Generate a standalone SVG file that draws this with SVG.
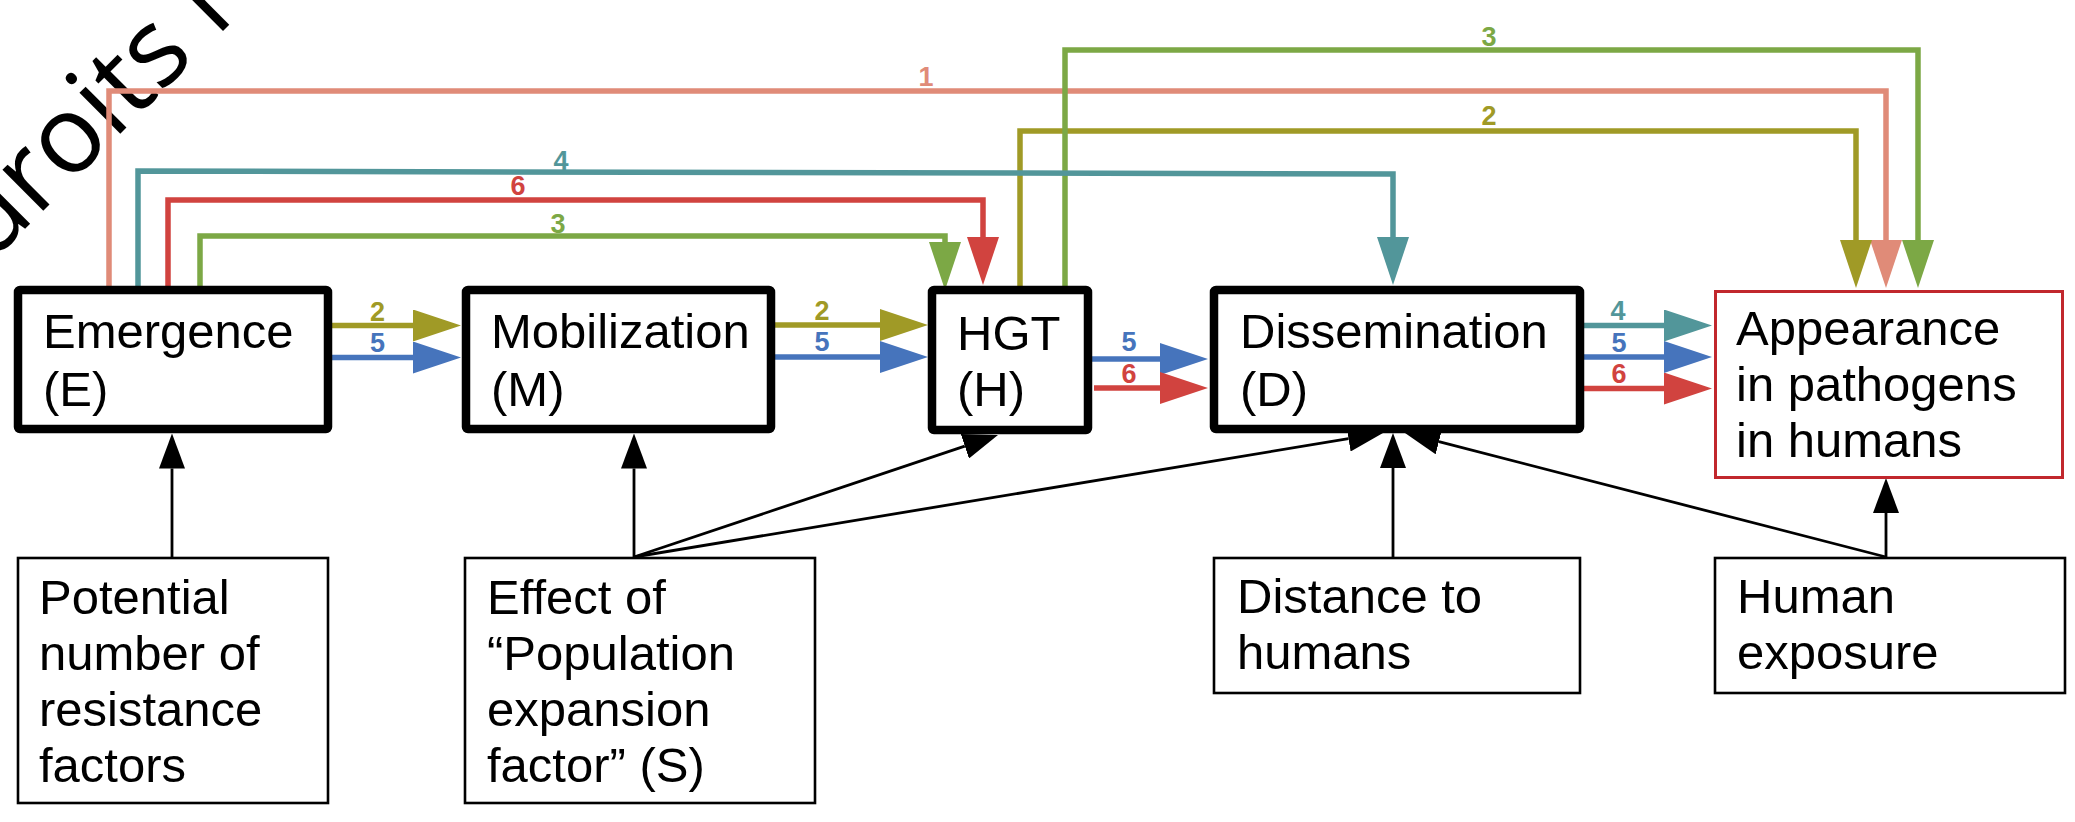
<svg xmlns="http://www.w3.org/2000/svg" width="2075" height="822" viewBox="0 0 2075 822">
<defs>
<style>
.box{fill:#fff;stroke:#000;stroke-width:8.5;stroke-linejoin:round}
.thin{fill:#fff;stroke:#000;stroke-width:2.6}
.red{fill:#fff;stroke:#c1272d;stroke-width:3}
.t{font-family:"Liberation Sans",Arial,sans-serif;font-size:49px;fill:#000}
.n{font-family:"Liberation Sans",Arial,sans-serif;font-size:27px;font-weight:bold;text-anchor:middle}
.c{fill:none;stroke-width:5.5}
.k{fill:none;stroke:#000;stroke-width:2.8}
.wm{font-family:"Open Sans",sans-serif;font-size:108px;fill:#000}
</style>
<marker id="aO" markerUnits="userSpaceOnUse" markerWidth="48" markerHeight="32" refX="0" refY="16" orient="auto"><path d="M0,0 L48,16 L0,32 z" fill="#e08b78"/></marker>
<marker id="aL" markerUnits="userSpaceOnUse" markerWidth="48" markerHeight="32" refX="0" refY="16" orient="auto"><path d="M0,0 L48,16 L0,32 z" fill="#a09a26"/></marker>
<marker id="aG" markerUnits="userSpaceOnUse" markerWidth="48" markerHeight="32" refX="0" refY="16" orient="auto"><path d="M0,0 L48,16 L0,32 z" fill="#7ca845"/></marker>
<marker id="aT" markerUnits="userSpaceOnUse" markerWidth="48" markerHeight="32" refX="0" refY="16" orient="auto"><path d="M0,0 L48,16 L0,32 z" fill="#52969a"/></marker>
<marker id="aR" markerUnits="userSpaceOnUse" markerWidth="48" markerHeight="32" refX="0" refY="16" orient="auto"><path d="M0,0 L48,16 L0,32 z" fill="#d1433f"/></marker>
<marker id="aB" markerUnits="userSpaceOnUse" markerWidth="48" markerHeight="32" refX="0" refY="16" orient="auto"><path d="M0,0 L48,16 L0,32 z" fill="#4674bc"/></marker>
<marker id="aK" markerUnits="userSpaceOnUse" markerWidth="35" markerHeight="26" refX="0" refY="13" orient="auto"><path d="M0,0 L35,13 L0,26 z" fill="#000"/></marker>
</defs>
<rect width="2075" height="822" fill="#fff"/>
<text class="wm" x="-10" y="264" transform="rotate(-45 -10 264)">droits re</text>

<g id="connectors">
<path class="c" stroke="#e08b78" marker-end="url(#aO)" d="M109,286 V91 H1886 V240"/>
<path class="c" stroke="#a09a26" marker-end="url(#aL)" d="M1020,287 V131 H1856 V240"/>
<path class="c" stroke="#7ca845" marker-end="url(#aG)" d="M1065,287 V50 H1918 V240"/>
<path class="c" stroke="#52969a" marker-end="url(#aT)" d="M138,286 V171 L1393,174 V237"/>
<path class="c" stroke="#d1433f" marker-end="url(#aR)" d="M168,286 V200 H983 V237"/>
<path class="c" stroke="#7ca845" marker-end="url(#aG)" d="M200,286 V236 H945 V242"/>

<path class="c" stroke="#a09a26" marker-end="url(#aL)" d="M332,325.5 H413"/>
<path class="c" stroke="#4674bc" marker-end="url(#aB)" d="M332,357.5 H413"/>
<path class="c" stroke="#a09a26" marker-end="url(#aL)" d="M775,325 H880"/>
<path class="c" stroke="#4674bc" marker-end="url(#aB)" d="M775,357 H880"/>
<path class="c" stroke="#4674bc" marker-end="url(#aB)" d="M1092,359 H1160"/>
<path class="c" stroke="#d1433f" marker-end="url(#aR)" d="M1094,388 H1160"/>
<path class="c" stroke="#52969a" marker-end="url(#aT)" d="M1584,325.5 H1664"/>
<path class="c" stroke="#4674bc" marker-end="url(#aB)" d="M1584,357 H1664"/>
<path class="c" stroke="#d1433f" marker-end="url(#aR)" d="M1584,388.5 H1664"/>

<path class="k" marker-end="url(#aK)" d="M172,557 V468.5"/>
<path class="k" marker-end="url(#aK)" d="M634,557 V468.5"/>
<path class="k" marker-end="url(#aK)" d="M634,557 L964.8,446.2"/>
<path class="k" marker-end="url(#aK)" d="M634,557 L1348.5,438.7"/>
<path class="k" marker-end="url(#aK)" d="M1393,558 V468"/>
<path class="k" marker-end="url(#aK)" d="M1886,557 L1438.9,441.7"/>
<path class="k" marker-end="url(#aK)" d="M1886,557 V513"/>

<g class="n">
<text x="926" y="86" fill="#e08b78">1</text>
<text x="1489" y="125" fill="#a09a26">2</text>
<text x="1489" y="46" fill="#7ca845">3</text>
<text x="561" y="170" fill="#52969a">4</text>
<text x="518" y="195" fill="#d1433f">6</text>
<text x="558" y="233" fill="#7ca845">3</text>
<text x="377.5" y="320.5" fill="#a09a26">2</text>
<text x="377.5" y="352" fill="#4674bc">5</text>
<text x="822" y="320" fill="#a09a26">2</text>
<text x="822" y="351" fill="#4674bc">5</text>
<text x="1129" y="351" fill="#4674bc">5</text>
<text x="1129" y="383" fill="#d1433f">6</text>
<text x="1618" y="320" fill="#52969a">4</text>
<text x="1619" y="352" fill="#4674bc">5</text>
<text x="1619" y="383" fill="#d1433f">6</text>
</g>
</g>

<g id="emergence">
<rect class="box" x="18" y="290" width="310" height="139" rx="2"/>
<text class="t" x="43" y="348">Emergence</text>
<text class="t" x="43" y="406">(E)</text>
</g>
<g id="mobilization">
<rect class="box" x="466" y="290" width="305" height="139" rx="2"/>
<text class="t" x="491" y="348">Mobilization</text>
<text class="t" x="491" y="406">(M)</text>
</g>
<g id="hgt">
<rect class="box" x="932" y="290" width="156" height="140" rx="2"/>
<text class="t" x="957" y="350">HGT</text>
<text class="t" x="957" y="406">(H)</text>
</g>
<g id="dissemination">
<rect class="box" x="1214" y="290" width="366" height="139" rx="2"/>
<text class="t" x="1240" y="348">Dissemination</text>
<text class="t" x="1240" y="406">(D)</text>
</g>
<g id="appearance">
<rect class="red" x="1715.5" y="291.5" width="347" height="186"/>
<text class="t" x="1736" y="345">Appearance</text>
<text class="t" x="1736" y="401">in pathogens</text>
<text class="t" x="1736" y="457">in humans</text>
</g>
<g id="potential">
<rect class="thin" x="18" y="558" width="310" height="245"/>
<text class="t" x="39" y="614">Potential</text>
<text class="t" x="39" y="670">number of</text>
<text class="t" x="39" y="726">resistance</text>
<text class="t" x="39" y="782">factors</text>
</g>
<g id="effect">
<rect class="thin" x="465" y="558" width="350" height="245"/>
<text class="t" x="487" y="614">Effect of</text>
<text class="t" x="487" y="670">“Population</text>
<text class="t" x="487" y="726">expansion</text>
<text class="t" x="487" y="782">factor” (S)</text>
</g>
<g id="distance">
<rect class="thin" x="1214" y="558" width="366" height="135"/>
<text class="t" x="1237" y="613">Distance to</text>
<text class="t" x="1237" y="669">humans</text>
</g>
<g id="exposure">
<rect class="thin" x="1715" y="558" width="350" height="135"/>
<text class="t" x="1737" y="613">Human</text>
<text class="t" x="1737" y="669">exposure</text>
</g>
</svg>
